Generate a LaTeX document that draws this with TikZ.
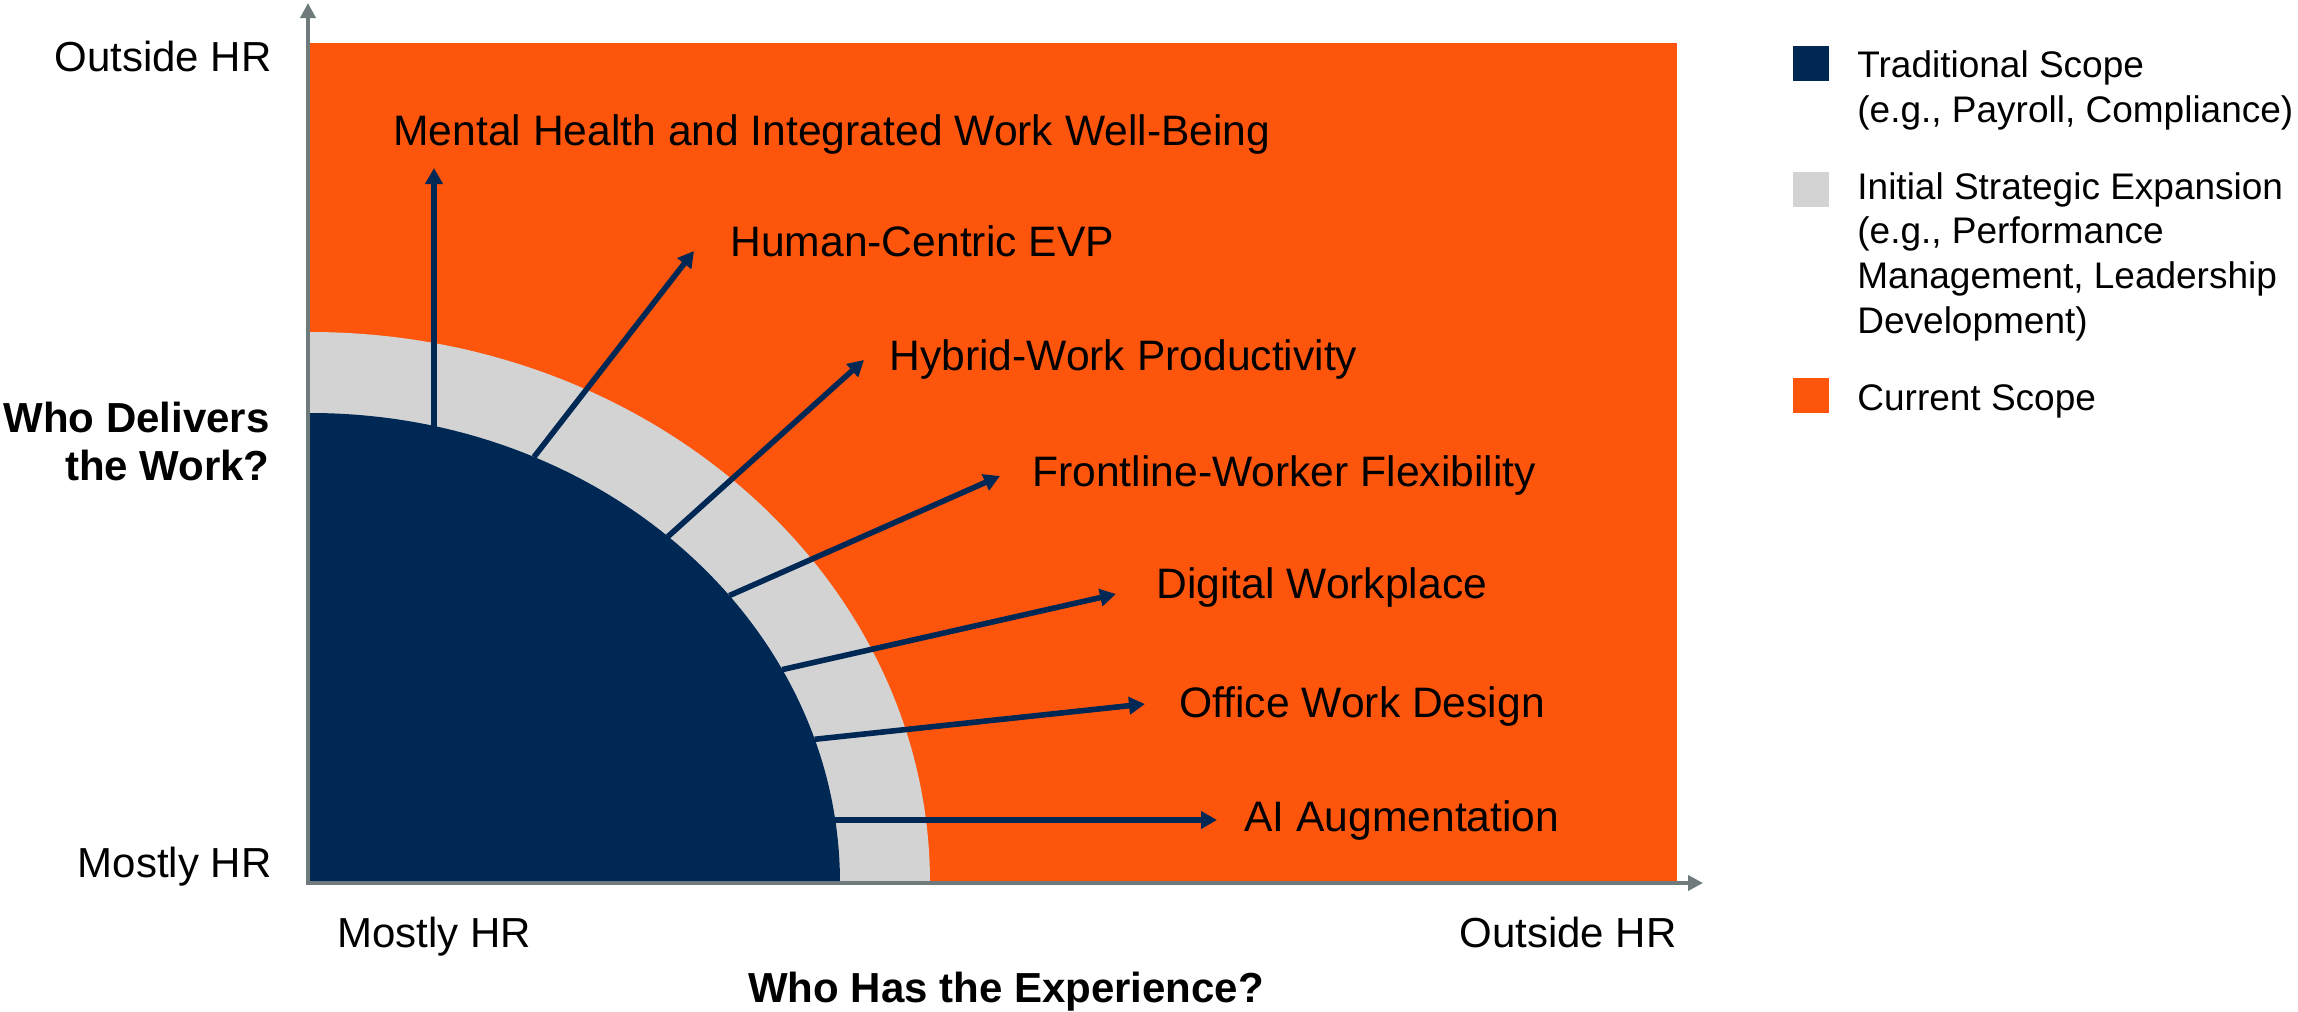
\documentclass[tikz,border=0pt]{standalone}
\usepackage{fontspec}
\setmainfont{Liberation Sans}
\usetikzlibrary{arrows.meta}
\definecolor{scopeorange}{RGB}{254,85,12}
\definecolor{scopenavy}{RGB}{0,40,85}
\definecolor{ringgray}{RGB}{211,211,211}
\definecolor{axisgray}{RGB}{110,122,124}
\tikzset{
  lbl/.style={inner sep=0pt, anchor=base west, text=black, font=\fontsize{21.3}{24}\selectfont},
  axlbl/.style={inner sep=0pt, text=black, font=\fontsize{21}{24}\selectfont},
  axtitle/.style={inner sep=0pt, text=black, font=\fontsize{21}{24}\selectfont\bfseries},
  legtxt/.style={inner sep=0pt, anchor=base west, align=left, text=black, font=\fontsize{18.5}{22.3}\selectfont},
  legbox/.style={inner sep=0pt, minimum width=17.75pt, minimum height=17.5pt, anchor=north west},
  growarrow/.style={draw=scopenavy, line width=2.8pt, -{Triangle[length=8pt,width=8.5pt]}},
  axisline/.style={draw=axisgray, line width=2pt, line join=miter, {Triangle[length=7.5pt,width=7.5pt]}-{Triangle[length=7.5pt,width=7.5pt]}}
}
\begin{document}
\begin{tikzpicture}[x=0.5pt,y=-0.5pt]
\useasboundingbox (0,0) rectangle (2298,1012);
% regions
\fill[scopeorange] (310,43) rectangle (1677,883);
\coordinate (O) at (310,883);
\fill[ringgray] (O) -- ++(310pt,0pt) arc[start angle=0, end angle=90, x radius=310pt, y radius=275.5pt] -- cycle;
\fill[scopenavy] (O) -- ++(265pt,0pt) arc[start angle=0, end angle=90, x radius=265pt, y radius=235pt] -- cycle;
% arrow start points on the traditional-scope boundary
\coordinate (s1) at (434,427);
\coordinate (s2) at (534,457);
\coordinate (s3) at (668,536.5);
\coordinate (s4) at (729.3,595.6);
\coordinate (s5) at (782.2,669.6);
\coordinate (s6) at (814.6,739.3);
\coordinate (s7) at (835,820);
% arrow tips
\coordinate (t1) at (434,168);
\coordinate (t2) at (694,251);
\coordinate (t3) at (864,360);
\coordinate (t4) at (1000,476);
\coordinate (t5) at (1116,594);
\coordinate (t6) at (1145,704);
\coordinate (t7) at (1217,820);
\draw[growarrow] (s1) -- (t1);
\draw[growarrow] (s2) -- (t2);
\draw[growarrow] (s3) -- (t3);
\draw[growarrow] (s4) -- (t4);
\draw[growarrow] (s5) -- (t5);
\draw[growarrow] (s6) -- (t6);
\draw[growarrow] (s7) -- (t7);
% labels
\node[lbl] (l1) at (393,145) {Mental Health and Integrated Work Well-Being};
\node[lbl] (l2) at (730,256) {Human-Centric EVP};
\node[lbl] (l3) at (889,370) {Hybrid-Work Productivity};
\node[lbl] (l4) at (1032,486) {Frontline-Worker Flexibility};
\node[lbl] (l5) at (1156,598) {Digital Workplace};
\node[lbl] (l6) at (1179,717) {Office Work Design};
\node[lbl] (l7) at (1244,831) {AI Augmentation};
% axes
\coordinate (ytop) at (308,3);
\coordinate (corner) at (308,883);
\coordinate (xend) at (1703,883);
\draw[axisline] (ytop) -- (corner) -- (xend);
% axis labels
\node[axlbl, anchor=base east] (yhi) at (272,71) {Outside HR};
\node[axlbl, anchor=base east] (ylo) at (272,877) {Mostly HR};
\node[axtitle, anchor=base east, align=right] (ytitle) at (270,480) {Who Delivers\\the Work?};
\node[axlbl, anchor=base west] (xlo) at (337,947) {Mostly HR};
\node[axlbl, anchor=base east] (xhi) at (1677,947) {Outside HR};
\node[axtitle, anchor=base] (xtitle) at (1006,1002) {Who Has the Experience?};
% legend
\node[legbox, fill=scopenavy] (k1) at (1793,46) {};
\node[legbox, fill=ringgray] (k2) at (1793,172) {};
\node[legbox, fill=scopeorange] (k3) at (1793,378) {};
\node[legtxt] (g1) at (1857,122) {Traditional Scope\\(e.g., Payroll, Compliance)};
\node[legtxt] (g2) at (1857,333) {Initial Strategic Expansion\\(e.g., Performance\\Management, Leadership\\Development)};
\node[legtxt] (g3) at (1857,410) {Current Scope};
\end{tikzpicture}
\end{document}
